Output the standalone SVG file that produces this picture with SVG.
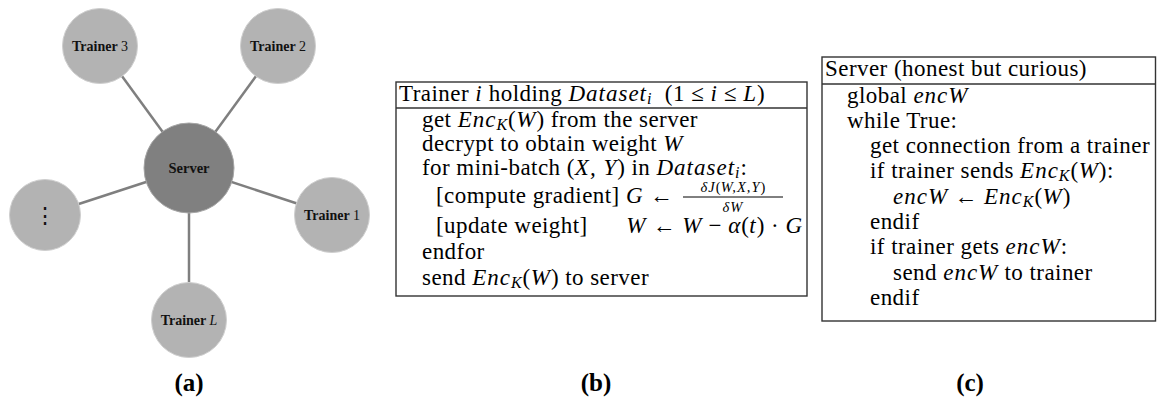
<svg xmlns="http://www.w3.org/2000/svg" width="1157" height="400" viewBox="0 0 1157 400">
<style>
.bg{fill:#fff}
.edge{stroke:#7f7f7f;stroke-width:2.5;fill:none}
.tr{fill:#b3b3b3;stroke:#cfcfcf;stroke-width:1}
.sv{fill:#808080;stroke:#a6a6a6;stroke-width:1}
.nl{font-family:"Liberation Serif","Times New Roman",serif;font-size:14px;font-weight:bold;fill:#111;text-anchor:middle}
.nr{font-weight:normal}
.t{font-family:"Liberation Serif","Times New Roman",serif;font-size:23px;letter-spacing:0.45px;fill:#000}
.m{font-style:italic;letter-spacing:1px}
.s{font-size:16px}
.fr{font-family:"Liberation Serif","Times New Roman",serif;font-size:14.5px;fill:#000;text-anchor:middle}
.box{fill:none;stroke:#333;stroke-width:1.4}
.cap{font-family:"Liberation Serif","Times New Roman",serif;font-size:25px;font-weight:bold;fill:#000;text-anchor:middle}
</style>
<rect class="bg" x="0" y="0" width="1157" height="400"/>
<g id="connectors">
<line class="edge" x1="189" y1="168" x2="100" y2="46"/>
<line class="edge" x1="189" y1="168" x2="278" y2="46"/>
<line class="edge" x1="189" y1="168" x2="332" y2="215"/>
<line class="edge" x1="189" y1="168" x2="45" y2="215"/>
<line class="edge" x1="189" y1="168" x2="189" y2="320"/>
</g>
<g id="server"><circle class="sv" cx="189" cy="168" r="45"/><text class="nl" x="189" y="173" style="font-size:14.5px">Server</text></g>
<g id="trainer3"><circle class="tr" cx="100" cy="46" r="37.5"/><text class="nl" x="100" y="51">Trainer <tspan class="nr">3</tspan></text></g>
<g id="trainer2"><circle class="tr" cx="278" cy="46" r="37.5"/><text class="nl" x="278" y="51">Trainer <tspan class="nr">2</tspan></text></g>
<g id="trainer1"><circle class="tr" cx="332" cy="215" r="37.5"/><text class="nl" x="332" y="220">Trainer <tspan class="nr">1</tspan></text></g>
<g id="trainerdots"><circle class="tr" cx="45" cy="215" r="35.5"/><text x="45" y="223" style="font-family:'DejaVu Serif',serif;font-size:22px;text-anchor:middle;fill:#111">⋮</text></g>
<g id="trainerL"><circle class="tr" cx="189" cy="320" r="37.5"/><text class="nl" x="189" y="325">Trainer <tspan class="nr" font-style="italic">L</tspan></text></g>
<text class="cap" x="189" y="391">(a)</text>

<g id="trainer-algo">
<rect class="box" x="396" y="82" width="411" height="214"/>
<line class="box" x1="396" y1="108" x2="807" y2="108"/>
<text class="t" x="399" y="101" xml:space="preserve">Trainer <tspan class="m">i</tspan> holding <tspan class="m">Dataset</tspan><tspan class="m s" dy="3">i</tspan><tspan dy="-3">  (1 ≤ </tspan><tspan class="m">i</tspan> ≤ <tspan class="m">L</tspan>)</text>
<text class="t" x="422" y="127" xml:space="preserve">get <tspan class="m">Enc</tspan><tspan class="m s" dy="3">K</tspan><tspan dy="-3">(</tspan><tspan class="m">W</tspan>) from the server</text>
<text class="t" x="422" y="151" xml:space="preserve">decrypt to obtain weight <tspan class="m">W</tspan></text>
<text class="t" x="422" y="175" xml:space="preserve">for mini-batch (<tspan class="m">X, Y</tspan>) in <tspan class="m">Dataset</tspan><tspan class="m s" dy="3">i</tspan><tspan dy="-3">:</tspan></text>
<text class="t" x="436" y="203" xml:space="preserve">[compute gradient] <tspan class="m">G</tspan> ←</text>
<text class="fr" x="733" y="192"><tspan class="m">δJ</tspan>(<tspan class="m">W,X,Y</tspan>)</text>
<line x1="683" y1="197" x2="783" y2="197" stroke="#000" stroke-width="1"/>
<text class="fr" x="733" y="212"><tspan class="m">δW</tspan></text>
<text class="t" x="436" y="233" xml:space="preserve">[update weight]</text>
<text class="t" x="803" y="233" style="text-anchor:end" xml:space="preserve"><tspan class="m">W</tspan> ← <tspan class="m">W</tspan> − <tspan class="m">α</tspan>(<tspan class="m">t</tspan>) · <tspan class="m">G</tspan></text>
<text class="t" x="422" y="259">endfor</text>
<text class="t" x="422" y="285" xml:space="preserve">send <tspan class="m">Enc</tspan><tspan class="m s" dy="3">K</tspan><tspan dy="-3">(</tspan><tspan class="m">W</tspan>) to server</text>
</g>
<text class="cap" x="596" y="391">(b)</text>

<g id="server-algo">
<rect class="box" x="822" y="57" width="333.5" height="264"/>
<line class="box" x1="822" y1="84" x2="1155.5" y2="84"/>
<text class="t" x="825" y="76">Server (honest but curious)</text>
<text class="t" x="847" y="103" xml:space="preserve">global <tspan class="m">encW</tspan></text>
<text class="t" x="847" y="128">while True:</text>
<text class="t" x="870" y="153">get connection from a trainer</text>
<text class="t" x="870" y="178" xml:space="preserve">if trainer sends <tspan class="m">Enc</tspan><tspan class="m s" dy="3">K</tspan><tspan dy="-3">(</tspan><tspan class="m">W</tspan>):</text>
<text class="t" x="893" y="204" xml:space="preserve"><tspan class="m">encW</tspan> ← <tspan class="m">Enc</tspan><tspan class="m s" dy="3">K</tspan><tspan dy="-3">(</tspan><tspan class="m">W</tspan>)</text>
<text class="t" x="870" y="229">endif</text>
<text class="t" x="870" y="254" xml:space="preserve">if trainer gets <tspan class="m">encW</tspan>:</text>
<text class="t" x="893" y="280" xml:space="preserve">send <tspan class="m">encW</tspan> to trainer</text>
<text class="t" x="870" y="305">endif</text>
</g>
<text class="cap" x="970" y="391">(c)</text>
</svg>
